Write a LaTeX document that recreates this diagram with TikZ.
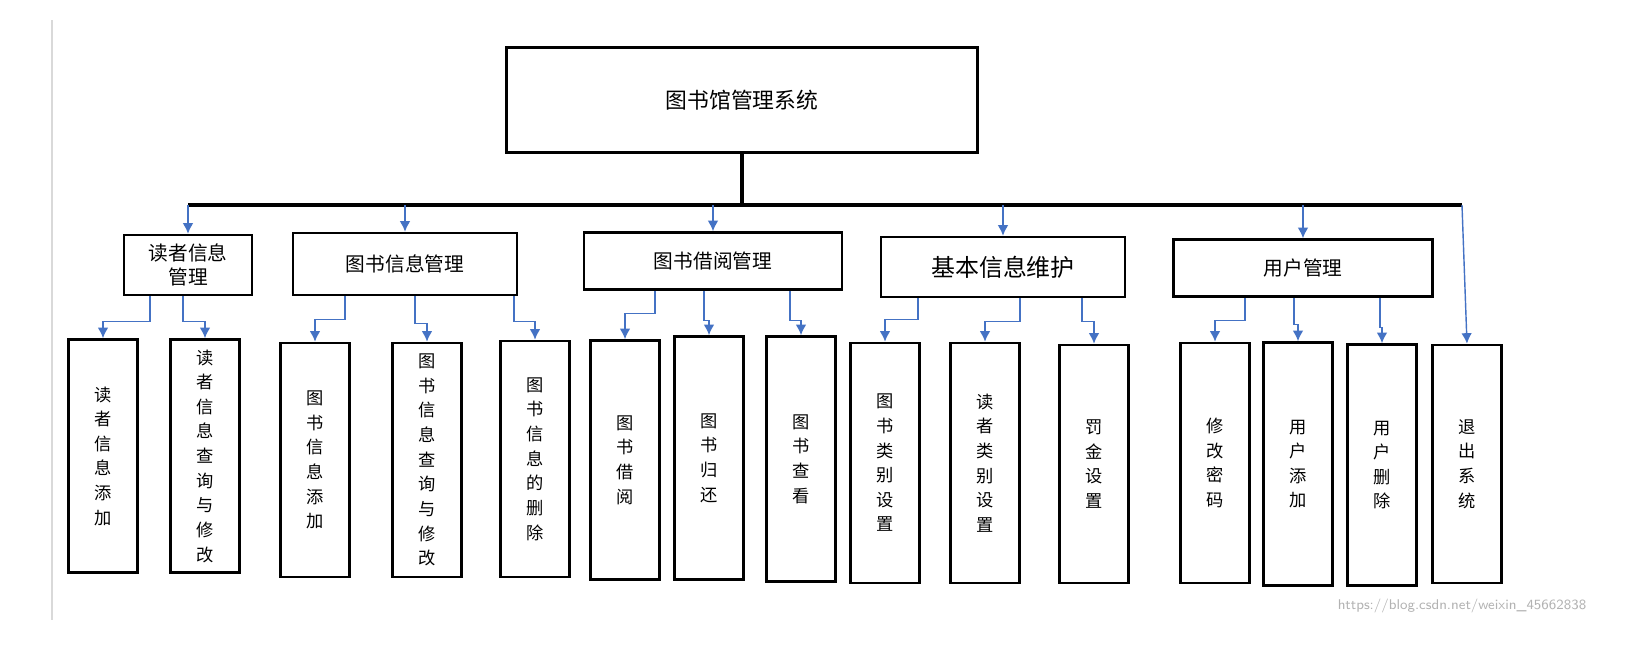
\documentclass[tikz,border=0pt]{standalone}
\usepackage{fontspec}
\newfontfamily\cjk{Noto Sans CJK SC}
\usetikzlibrary{arrows.meta}
\definecolor{linkblue}{RGB}{68,114,196}
\tikzset{
  box/.style={draw=black, line width=0.7pt, inner sep=0pt, align=center, font=\cjk\fontsize{5.6}{6.8}\selectfont},
  leaf/.style={box, minimum width=0.69cm, font=\cjk\fontsize{4.9}{7}\selectfont},
  conn/.style={linkblue, line width=0.4pt, -{Latex[length=3pt,width=3pt]}},
}
\begin{document}
\begin{tikzpicture}[x=0.01cm, y=-0.01cm]
	\useasboundingbox (0,0) rectangle (1638,650);
	\draw[black!15, line width=0.6pt] (52,20) -- (52,620);
	% top
	\node[box, minimum width=4.71cm, minimum height=1.05cm, font=\cjk\fontsize{6.2}{7}\selectfont] (sys) at (742,100) {图书馆管理系统};
	% modules
	\node[box, minimum width=1.28cm, minimum height=0.6cm] (reader) at (188,265) {读者信息\\管理};
	\node[box, minimum width=2.24cm, minimum height=0.62cm] (book) at (405,264) {图书信息管理};
	\node[box, minimum width=2.58cm, minimum height=0.57cm] (borrow) at (713,261) {图书借阅管理};
	\node[box, minimum width=2.44cm, minimum height=0.6cm, font=\cjk\fontsize{6.8}{8}\selectfont] (basic) at (1003,267) {基本信息维护};
	\node[box, minimum width=2.59cm, minimum height=0.57cm] (user) at (1303,268) {用户管理};
	% leaves
	\node[leaf, minimum height=2.33cm] (r1) at (103,456) {读\\者\\信\\息\\添\\加};
	\node[leaf, minimum height=2.33cm] (r2) at (205,456) {读\\者\\信\\息\\查\\询\\与\\修\\改};
	\node[leaf, minimum height=2.34cm] (b1) at (315,460) {图\\书\\信\\息\\添\\加};
	\node[leaf, minimum height=2.34cm] (b2) at (427,460) {图\\书\\信\\息\\查\\询\\与\\修\\改};
	\node[leaf, minimum height=2.36cm] (b3) at (535,459) {图\\书\\信\\息\\的\\删\\除};
	\node[leaf, minimum height=2.39cm] (l1) at (625,460) {图\\书\\借\\阅};
	\node[leaf, minimum height=2.43cm] (l2) at (709,458) {图\\书\\归\\还};
	\node[leaf, minimum height=2.45cm] (l3) at (801,459) {图\\书\\查\\看};
	\node[leaf, minimum height=2.40cm] (k1) at (885,463) {图\\书\\类\\别\\设\\置};
	\node[leaf, minimum height=2.40cm] (k2) at (985,463) {读\\者\\类\\别\\设\\置};
	\node[leaf, minimum height=2.38cm] (k3) at (1094,464) {罚\\金\\设\\置};
	\node[leaf, minimum height=2.40cm] (u1) at (1215,463) {修\\改\\密\\码};
	\node[leaf, minimum height=2.43cm] (u2) at (1298,464) {用\\户\\添\\加};
	\node[leaf, minimum height=2.41cm] (u3) at (1382,465) {用\\户\\删\\除};
	\node[leaf, minimum height=2.38cm] (quit) at (1467,464) {退\\出\\系\\统};
	% trunk
	\coordinate (barL) at (188,205);
	\coordinate (barR) at (1462,205);
	\draw[line width=1pt] (sys.south) -- (sys.south |- barL);
	\draw[line width=1pt] (barL) -- (barR);
	\foreach \m in {reader,book,borrow,basic,user}
		\draw[conn] (\m.north |- barL) -- (\m.north);
	\draw[conn] (barR) -- (quit.north);
	% branches
	\draw[conn] ([xshift=-0.38cm]reader.south) -- ++(0,25) -| (r1.north);
	\draw[conn] ([xshift=-0.05cm]reader.south) -- ++(0,25) -| (r2.north);
	\draw[conn] ([xshift=-0.6cm]book.south) -- ++(0,23) -| (b1.north);
	\draw[conn] ([xshift=0.1cm]book.south) -- ++(0,27) -| (b2.north);
	\draw[conn] ([xshift=1.09cm]book.south) -- ++(0,25) -| (b3.north);
	\draw[conn] ([xshift=-0.58cm]borrow.south) -- ++(0,23) -| (l1.north);
	\draw[conn] ([xshift=-0.09cm]borrow.south) -- ++(0,30) -| (l2.north);
	\draw[conn] ([xshift=0.77cm]borrow.south) -- ++(0,30) -| (l3.north);
	\draw[conn] ([xshift=-0.85cm]basic.south) -- ++(0,21) -| (k1.north);
	\draw[conn] ([xshift=0.17cm]basic.south) -- ++(0,23) -| (k2.north);
	\draw[conn] ([xshift=0.79cm]basic.south) -- ++(0,23) -| (k3.north);
	\draw[conn] ([xshift=-0.58cm]user.south) -- ++(0,23) -| (u1.north);
	\draw[conn] ([xshift=-0.09cm]user.south) -- ++(0,27) -| (u2.north);
	\draw[conn] ([xshift=0.77cm]user.south) -- ++(0,30) -| (u3.north);
	% watermark
	\node[text=black!30, font=\fontsize{4}{5}\selectfont\sffamily] (mark) at (1462,606) {https://blog.csdn.net/weixin\_45662838};
\end{tikzpicture}
\end{document}
